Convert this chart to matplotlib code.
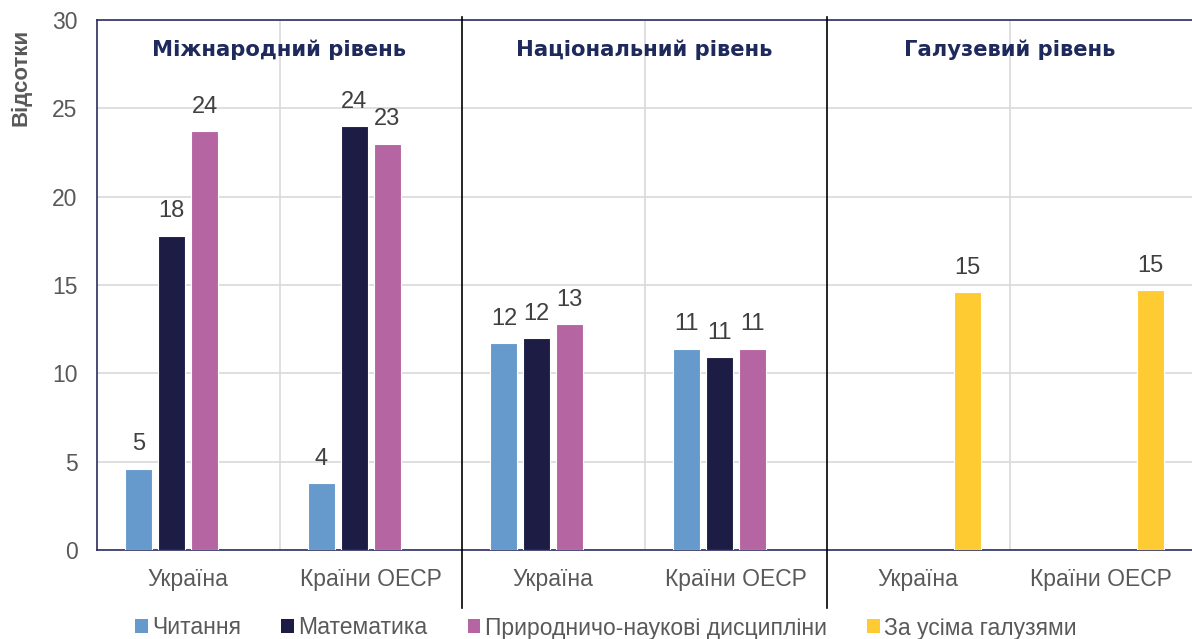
import numpy as np
import matplotlib
matplotlib.use("Agg")
import matplotlib.pyplot as plt
from matplotlib.patches import Patch

categories = ["Україна", "Країни ОЕСР", "Україна", "Країни ОЕСР", "Україна", "Країни ОЕСР"]
group_titles = ["Міжнародний рівень", "Національний рівень", "Галузевий рівень"]
series_names = ["Читання", "Математика", "Природничо-наукові дисципліни", "За усіма галузями"]
reading = [4.6, 3.8, 11.7, 11.4, np.nan, np.nan]
maths = [17.8, 24.0, 12.0, 10.9, np.nan, np.nan]
science = [23.7, 23.0, 12.8, 11.4, np.nan, np.nan]
all_fields = [np.nan, np.nan, np.nan, np.nan, 14.6, 14.7]
yticks = [0, 5, 10, 15, 20, 25, 30]

colors = ["#6699cc", "#1c1c45", "#b565a1", "#ffcb33"]
series = [reading, maths, science, all_fields]

plt.rcParams['font.family'] = ['Liberation Sans', 'DejaVu Sans']

fig = plt.figure(figsize=(11.92, 6.39), dpi=100)
ax = fig.add_axes([97/1192, 1 - 550/639, 1 - 97/1192, (550 - 20)/639])

x = np.arange(len(categories))
step = 0.18
width = 0.148
for i, (vals, col) in enumerate(zip(series, colors)):
    vals = np.array(vals, dtype=float)
    off = (i - 1.5) * step
    mask = ~np.isnan(vals)
    bars = ax.bar(x[mask] + off, vals[mask], width=width, color=col,
                  edgecolor="white", linewidth=0.8, zorder=3)
    for b, v in zip(bars, vals[mask]):
        ax.text(b.get_x() + b.get_width() / 2, v + 0.75, f"{v:.0f}",
                ha="center", va="bottom", fontsize=17, color="#404040", zorder=4)

ax.set_xlim(-0.5, len(categories) - 0.5)
ax.set_ylim(0, 30)
ax.set_yticks(yticks)
ax.set_xticks(x)
ax.set_xticklabels(categories)
ax.tick_params(axis="both", length=0, labelsize=16.5, colors="#595959")
ax.tick_params(axis="x", pad=13)
ax.tick_params(axis="y", pad=14)

ax.yaxis.grid(True, color="#d9d9d9", linewidth=1.2, zorder=0)
for gx in [0.5, 2.5, 4.5]:
    ax.axvline(gx, color="#d9d9d9", linewidth=1.2, zorder=0)

for sp in ["left", "top", "bottom"]:
    ax.spines[sp].set_color("#2b2d60")
    ax.spines[sp].set_linewidth(1.2)
ax.spines["right"].set_visible(False)

# group dividers
for dx in [1.5, 3.5]:
    ax.plot([dx, dx], [1.005, -0.11], transform=ax.get_xaxis_transform(),
            color="black", linewidth=1.2, clip_on=False, zorder=5)

for gi, t in enumerate(group_titles):
    ax.text(2 * gi + 0.5, 28.3, t, ha="center", va="center", fontsize=15.2,
            fontweight="bold", color="#1f2a5c", family="DejaVu Sans", zorder=5)

ax.set_ylabel("Відсотки", fontsize=16, fontweight="bold", color="#595959")
ax.yaxis.set_label_coords(-0.060, 0.892)

handles = [Patch(facecolor=c, edgecolor="none") for c in colors]
fig.legend(handles, series_names, loc="center", bbox_to_anchor=(606/1192, 1 - 628/639),
           ncol=4, frameon=False, fontsize=16.5, labelcolor="#595959",
           handlelength=0.55, handleheight=0.55, handletextpad=0.2, columnspacing=1.75)

fig.savefig("out.png", dpi=100)
